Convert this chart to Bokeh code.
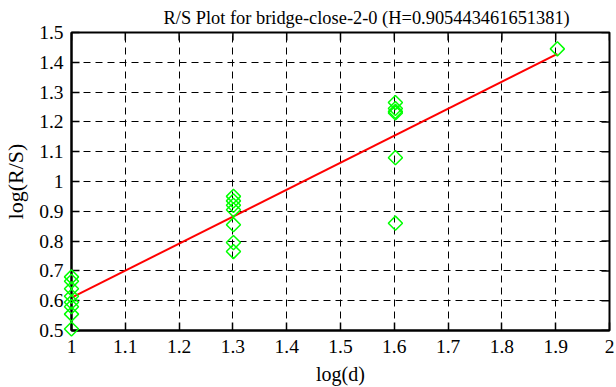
from bokeh.plotting import figure
from bokeh.models import FixedTicker, CustomJSTickFormatter, Title
from bokeh.embed import file_html
from bokeh.resources import INLINE
import math

title_text = "R/S Plot for bridge-close-2-0 (H=0.905443461651381)"
x_ticks = [1.0, 1.1, 1.2, 1.3, 1.4, 1.5, 1.6, 1.7, 1.8, 1.9, 2.0]
y_ticks = [0.5, 0.6, 0.7, 0.8, 0.9, 1.0, 1.1, 1.2, 1.3, 1.4, 1.5]

# log10 of window sizes d = 10, 20, 40, 80
d_10 = [0.68, 0.665, 0.64, 0.615, 0.595, 0.58, 0.555, 0.505]
d_20 = [0.95, 0.935, 0.92, 0.905, 0.855, 0.795, 0.765]
d_40 = [1.265, 1.245, 1.235, 1.23, 1.08, 0.86]
d_80 = [1.445]

H = 0.905443461651381
intercept = -0.295

xs, ys = [], []
for d, vals in [(10, d_10), (20, d_20), (40, d_40), (80, d_80)]:
    for v in vals:
        xs.append(math.log10(d))
        ys.append(v)

fit_x = [min(xs), max(xs)]
fit_y = [H * x + intercept for x in fit_x]

FONT = "Liberation Serif"

p = figure(width=616, height=387, x_range=(1, 2), y_range=(0.5, 1.5),
           output_backend="svg", toolbar_location=None,
           x_axis_label="log(d)", y_axis_label="log(R/S)",
           min_border_left=71, min_border_right=7, min_border_top=32, min_border_bottom=56)
p.title = Title(text=title_text, align="left", text_font=FONT, text_font_size="18.4px",
                text_font_style="normal", text_color="black", standoff=10, offset=92)
p.title_location = "above"

fmt = CustomJSTickFormatter(code="return String(Math.round(tick*10)/10);")

for ax, ticks in [(p.xaxis[0], x_ticks), (p.yaxis[0], y_ticks)]:
    ax.ticker = FixedTicker(ticks=ticks)
    ax.formatter = fmt
    ax.major_tick_in = 8
    ax.major_tick_out = 0
    ax.minor_tick_in = 0
    ax.minor_tick_out = 0
    ax.axis_line_color = "black"
    ax.axis_line_width = 2
    ax.major_tick_line_width = 1.5
    ax.major_label_text_font = FONT
    ax.major_label_text_font_size = "19.5px"
    ax.major_label_text_color = "black"
    ax.axis_label_text_font = FONT
    ax.axis_label_text_font_style = "normal"
    ax.axis_label_text_color = "black"
p.xaxis.axis_label_text_font_size = "20px"
p.yaxis.axis_label_text_font_size = "22px"
p.xaxis.major_label_standoff = 9
p.xaxis.axis_label_standoff = 7
p.yaxis.major_label_standoff = 8
p.yaxis.axis_label_standoff = 8

# inward ticks mirrored on the top and right edges of the frame
p.ray(x=x_ticks, y=[y_ticks[-1]] * len(x_ticks), length=8, length_units="screen",
      angle=-math.pi / 2, line_color="black", line_width=1.5)
p.ray(x=[x_ticks[-1]] * len(y_ticks), y=y_ticks, length=8, length_units="screen",
      angle=math.pi, line_color="black", line_width=1.5)

p.xgrid.ticker = FixedTicker(ticks=x_ticks)
p.ygrid.ticker = FixedTicker(ticks=y_ticks)
for g in (p.xgrid[0], p.ygrid[0]):
    g.grid_line_color = "black"
    g.grid_line_dash = "7 5"
    g.grid_line_width = 1
    g.grid_line_alpha = 1

p.outline_line_color = "black"
p.outline_line_width = 2

p.line(fit_x, fit_y, line_color="#ff0000", line_width=2)
r = p.scatter(xs, ys, marker="square", angle=math.pi / 4, size=10,
              fill_color=None, line_color="#00ff00", line_width=1.5, level="overlay")

open("out.html", "w").write(file_html(p, INLINE))
